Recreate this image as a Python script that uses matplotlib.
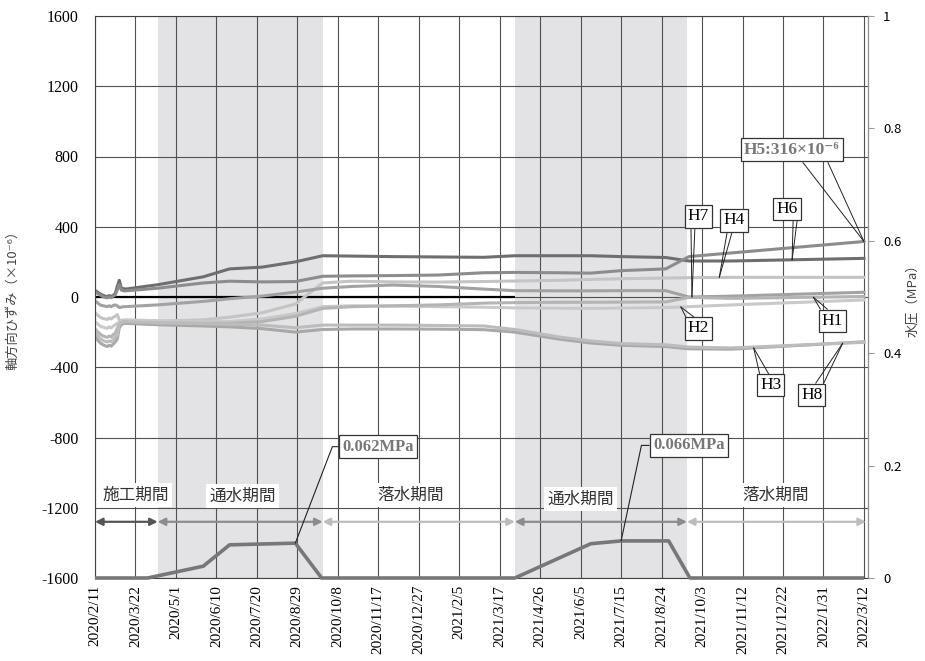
import numpy as np
import matplotlib
matplotlib.use('Agg')
import matplotlib.pyplot as plt

plt.rcParams['font.family'] = ['Liberation Serif', 'Noto Sans CJK JP', 'DejaVu Sans']
plt.rcParams['axes.unicode_minus'] = False
CJK = ['Noto Sans CJK JP', 'DejaVu Sans']
SERIF = ['Liberation Serif', 'DejaVu Serif']

# ---- data -------------------------------------------------------------
# dense logging right after installation, then sparse readings
early_days = ['2020-02-11', '2020-02-13', '2020-02-15', '2020-02-17', '2020-02-19',
              '2020-02-21', '2020-02-23', '2020-02-25', '2020-02-27', '2020-02-29',
              '2020-03-02', '2020-03-04', '2020-03-06', '2020-03-08', '2020-03-10']
trend_days = ['2020-03-12', '2020-04-13', '2020-05-28', '2020-06-23', '2020-07-25',
              '2020-08-27', '2020-09-23', '2020-10-22', '2020-12-01', '2021-01-15',
              '2021-03-01', '2021-04-01', '2021-05-15', '2021-06-15', '2021-07-15',
              '2021-08-28', '2021-09-20', '2021-11-01', '2022-03-12']

# strain (x10^-6)
H6 = [38, 30, 22, 15, 10, 5, 2, 8, 3, 10, 20, 60, 95, 50, 48,
      45, 70, 115, 160, 170, 200, 235, 233, 230, 228, 226, 235, 235, 235, 230, 225, 205, 205, 220]
H5 = [30, 22, 15, 8, 2, -2, -5, 0, -4, 5, 12, 40, 70, 40, 35,
      35, 50, 80, 90, 86, 88, 118, 120, 122, 125, 138, 140, 138, 136, 150, 160, 230, 251, 316]
H4 = [-90, -100, -110, -118, -122, -125, -128, -120, -125, -115, -110, -100, -130, -135, -138,
      -140, -138, -130, -115, -90, -40, 80, 90, 86, 85, 88, 91, 95, 100, 104, 108, 110, 112, 112]
H7 = [-20, -30, -40, -48, -50, -52, -55, -50, -55, -48, -45, -50, -60, -58, -55,
      -55, -45, -25, -10, 5, 28, 50, 60, 68, 60, 45, 36, 35, 35, 36, 36, 0, 5, 27]
H2 = [-140, -150, -160, -168, -172, -175, -178, -170, -176, -165, -160, -150, -145, -135, -130,
      -130, -135, -140, -140, -125, -95, -55, -50, -52, -55, -58, -62, -64, -65, -63, -60, -55, -45, -17]
H1 = [-180, -195, -205, -215, -222, -226, -230, -222, -228, -215, -205, -180, -160, -150, -148,
      -145, -148, -150, -150, -140, -110, -65, -55, -50, -45, -35, -32, -30, -30, -29, -28, -2, -8, 3]
H3 = [-220, -240, -255, -265, -272, -278, -282, -275, -280, -268, -255, -240, -175, -158, -152,
      -150, -158, -165, -170, -180, -200, -185, -182, -182, -183, -186, -200, -240, -262, -275, -282, -295, -297, -255]
H8 = [-200, -215, -230, -240, -248, -252, -256, -250, -255, -242, -230, -215, -160, -145, -142,
      -140, -148, -152, -155, -160, -175, -160, -160, -160, -162, -165, -185, -228, -250, -265, -272, -285, -290, -258]

# water pressure (MPa)
wp_days = ['2020-02-11', '2020-04-03', '2020-05-28', '2020-06-23', '2020-08-27', '2020-09-22',
           '2021-04-01', '2021-06-15', '2021-07-15', '2021-08-31', '2021-09-21', '2022-03-12']
wp = [0, 0, 0.021, 0.059, 0.062, 0, 0, 0.061, 0.066, 0.066, 0, 0]

# periods: (label, start, end)
periods = [('施工期間', '2020-02-11', '2020-04-13'),
           ('通水期間', '2020-04-13', '2020-09-23'),
           ('落水期間', '2020-09-23', '2021-04-01'),
           ('通水期間', '2021-04-01', '2021-09-18'),
           ('落水期間', '2021-09-18', '2022-03-14')]
period_label_x = ['2020-03-22', '2020-07-06', '2020-12-19', '2021-06-05', '2021-12-15']
period_label_y = [-1127, -1133, -1127, -1150, -1127]
period_colors = ['#555555', '#8c8c8c', '#bdbdbd', '#8c8c8c', '#bdbdbd']
wet_spans = [('2020-04-13', '2020-09-23'), ('2021-04-01', '2021-09-18')]
zero_line_end = '2021-04-01'

x_start = np.datetime64('2020-02-11')
x_end = np.datetime64('2022-03-16')

days = np.array(early_days + trend_days, dtype='datetime64[D]')
series = {'H6': H6, 'H5': H5, 'H4': H4, 'H7': H7, 'H2': H2, 'H1': H1, 'H3': H3, 'H8': H8}
colors = {'H6': '#6e6e6e', 'H5': '#8c8c8c', 'H4': '#c4c4c4', 'H7': '#a2a2a2',
          'H2': '#c9c9c9', 'H1': '#b4b4b4', 'H3': '#a8a8a8', 'H8': '#bcbcbc'}

# ---- figure -----------------------------------------------------------
fig = plt.figure(figsize=(9.25, 6.61), dpi=100)
ax = fig.add_axes([95 / 925, 1 - 578 / 661, (868 - 95) / 925, (578 - 16) / 661])

for a, b in wet_spans:
    ax.axvspan(np.datetime64(a), np.datetime64(b), color='#e3e3e6', lw=0, zorder=0.2)

ax.hlines(0, x_start, np.datetime64(zero_line_end), color='k', lw=1.6, zorder=1.8)

for name, vals in series.items():
    ax.plot(days, vals, color=colors[name], lw=2.2, zorder=2)

ax.set_xlim(x_start, x_end)
ax.set_ylim(-1600, 1600)
ax.set_yticks(np.arange(-1600, 1601, 400))
ax.set_yticklabels([str(v) for v in range(-1600, 1601, 400)], family=SERIF, fontsize=11.5)
ticks = np.arange(x_start, x_start + np.timedelta64(761, 'D'), np.timedelta64(40, 'D'))
ax.set_xticks(ticks)
labels = []
for t in ticks.astype(object):
    labels.append('%d/%d/%d' % (t.year, t.month, t.day))
ax.set_xticklabels(labels, rotation=90, fontsize=11, family=SERIF)
ax.tick_params(axis='y', length=0, pad=12)
ax.tick_params(axis='x', length=0, pad=5)
ax.set_axisbelow(True)
ax.grid(True, color='#505050', lw=0.8)
for s in ax.spines.values():
    s.set_color('#404040')
    s.set_linewidth(0.8)

# period arrows and labels
for (lab, a, b), c, lx, ly in zip(periods, period_colors, period_label_x, period_label_y):
    ax.annotate('', xy=(np.datetime64(b), -1280), xytext=(np.datetime64(a), -1280),
                arrowprops=dict(arrowstyle='<|-|>', color=c, lw=1.6, mutation_scale=11,
                                shrinkA=0, shrinkB=0), zorder=3)
    ax.text(np.datetime64(lx), ly, lab, family=CJK, fontsize=12, color='#333333',
            ha='center', va='center', zorder=4,
            bbox=dict(boxstyle='square,pad=0.2', fc='white', ec='none'))

# ---- water pressure on the secondary axis ----------------------------
ax2 = ax.twinx()
ax2.plot(np.array(wp_days, dtype='datetime64[D]'), wp, color='#777777', lw=2.6,
         clip_on=False, solid_capstyle='butt')
ax2.set_ylim(0, 1)
ax2.set_xlim(x_start, x_end)
ax2.set_yticks(np.arange(0, 1.01, 0.2))
ax2.set_yticklabels(['0', '0.2', '0.4', '0.6', '0.8', '1'], family=CJK)
ax2.tick_params(axis='y', length=4, color='#999999', pad=7, labelsize=9.5)
for k, s in ax2.spines.items():
    s.set_visible(k == 'right')
ax2.spines['right'].set_color('#909090')


def mpa_label(text, day, dx, dy, ang):
    tip = (np.datetime64(day), np.interp(np.datetime64(day).astype(float),
                                         np.array(wp_days, dtype='datetime64[D]').astype(float), wp))
    ax2.annotate(text, xy=tip, xytext=(dx, dy), textcoords='offset pixels',
                 ha='center', va='center', fontsize=12, fontweight='bold', color='#777777',
                 family=SERIF,
                 bbox=dict(boxstyle='square,pad=0.2', fc='white', ec='#333333', lw=0.9),
                 arrowprops=dict(arrowstyle='-', color='#222222', lw=0.8, shrinkA=0, shrinkB=0,
                                 connectionstyle='angle,angleA=180,angleB=%d,rad=0' % ang))


mpa_label('0.062MPa', '2020-08-27', 82.5, 96.5, 69)
mpa_label('0.066MPa', '2021-07-15', 67.5, 95.5, 78)


def callout(name, day, box, base1, base2, text=None, **kw):
    day = np.datetime64(day)
    y = np.interp(day.astype('datetime64[D]').astype(float), days.astype(float), series[name])
    tip = (day, y)
    for b in (base1, base2):
        ax2.annotate('', xy=tip, xytext=b, textcoords='offset pixels', xycoords=ax.transData,
                     arrowprops=dict(arrowstyle='-', color='#222222', lw=0.7, shrinkA=0, shrinkB=0))
    ax2.annotate(text or name, xy=tip, xytext=box, textcoords='offset pixels', xycoords=ax.transData,
                 ha='center', va='center', fontsize=12.5, family=SERIF,
                 bbox=dict(boxstyle='square,pad=0.18', fc='white', ec='#333333', lw=0.9), **kw)


callout('H5', '2022-03-12', (-72, 92), (-61, 79), (-36, 79), text='H5:316×10⁻⁶',
        fontweight='bold', color='#777777')
callout('H6', '2021-12-31', (-5, 50.5), (1, 39), (5, 39))
callout('H4', '2021-10-20', (14.5, 57), (8, 46), (13, 46))
callout('H7', '2021-09-23', (6.5, 80.5), (-1, 70), (3, 70))
callout('H2', '2021-09-12', (17.5, -21.5), (5, -10), (13, -10))
callout('H1', '2022-01-21', (19, -23.5), (7, -12), (14, -12))
callout('H3', '2021-11-23', (17, -37), (6, -26), (15, -26))
callout('H8', '2022-02-19', (-31, -52), (-27, -40), (-19, -40))

fig.text(13 / 925, 1 - 297 / 661, '軸方向ひずみ（×10⁻⁶）', rotation=90, family=CJK,
         fontsize=9.5, color='#444444', ha='center', va='center')
fig.text(913 / 925, 1 - 297 / 661, '水圧（MPa）', rotation=90, family=CJK,
         fontsize=9.5, color='#444444', ha='center', va='center')

fig.savefig('out.png', dpi=100)
